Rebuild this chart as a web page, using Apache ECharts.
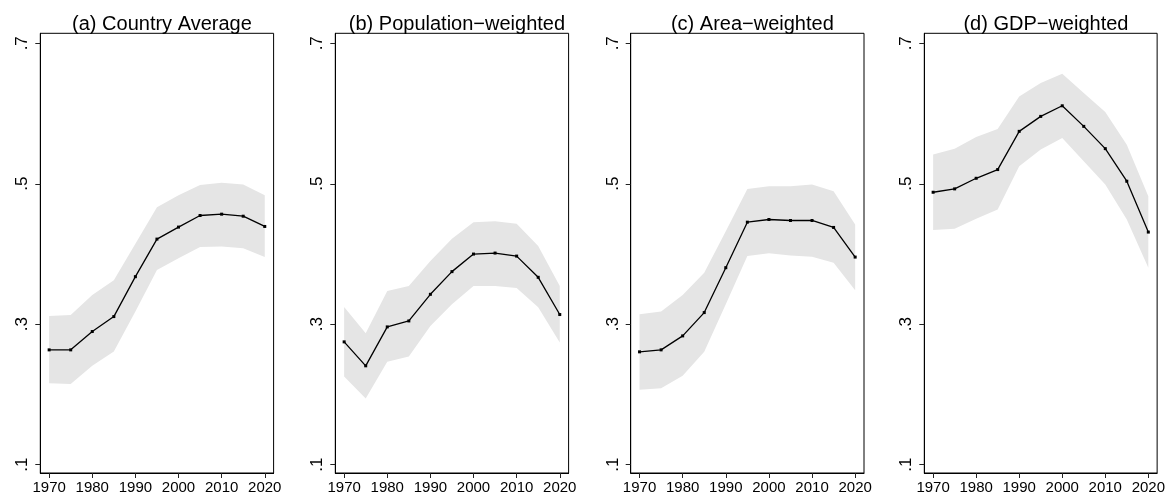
<!DOCTYPE html>
<html>
<head>
<meta charset="utf-8">
<script src="https://cdn.jsdelivr.net/npm/echarts@6/dist/echarts.min.js"></script>
<style>
html,body{margin:0;padding:0;background:#fff;}
#c{width:1168px;height:495px;}
</style>
</head>
<body>
<div id="c"></div>
<script>
const years = [1970,1975,1980,1985,1990,1995,2000,2005,2010,2015,2020];
const xTicks = [1970,1980,1990,2000,2010,2020];
const yTicks = [0.1,0.3,0.5,0.7];
const titles = ['(a) Country Average','(b) Population\u2212weighted','(c) Area\u2212weighted','(d) GDP\u2212weighted'];

const avgMean = [0.2635,0.2635,0.2896,0.3109,0.3677,0.4212,0.4383,0.4548,0.4567,0.4538,0.4392];
const avgLo   = [0.2160,0.2148,0.2408,0.2612,0.3180,0.3771,0.3938,0.4098,0.4108,0.4080,0.3956];
const avgHi   = [0.3118,0.3130,0.3417,0.3625,0.4146,0.4667,0.4837,0.4984,0.5013,0.4989,0.4837];

const popMean = [0.2749,0.2408,0.2962,0.3047,0.3426,0.3749,0.3999,0.4013,0.3970,0.3668,0.3138];
const popLo   = [0.2257,0.1944,0.2465,0.2541,0.2976,0.3284,0.3544,0.3544,0.3516,0.3241,0.2740];
const popHi   = [0.3246,0.2872,0.3473,0.3544,0.3900,0.4217,0.4453,0.4467,0.4430,0.4113,0.3544];

const areaMean = [0.2607,0.2635,0.2834,0.3166,0.3805,0.4453,0.4491,0.4477,0.4477,0.4378,0.3956];
const areaLo   = [0.2067,0.2087,0.2266,0.2607,0.3284,0.3970,0.4009,0.3980,0.3961,0.3876,0.3483];
const areaHi   = [0.3142,0.3180,0.3417,0.3734,0.4325,0.4927,0.4965,0.4965,0.4989,0.4894,0.4420];

const gdpMean = [0.4879,0.4927,0.5078,0.5202,0.5746,0.5959,0.6110,0.5817,0.5500,0.5036,0.4312];
const gdpLo   = [0.4340,0.4359,0.4501,0.4634,0.5249,0.5486,0.5652,0.5320,0.4989,0.4492,0.3805];
const gdpHi   = [0.5415,0.5500,0.5666,0.5780,0.6243,0.6433,0.6565,0.6291,0.6022,0.5557,0.4823];

const panels = [
  {mean: avgMean, lo: avgLo, hi: avgHi},
  {mean: popMean, lo: popLo, hi: popHi},
  {mean: areaMean, lo: areaLo, hi: areaHi},
  {mean: gdpMean, lo: gdpLo, hi: gdpHi}
];

const gridLefts = [40.3, 335.3, 630.7, 924.3];
const gridWidth = 233.3;
const gridTop = 33.3;
const gridHeight = 440.7;
const FONT = 'Liberation Sans';

function bandRender(lo, hi) {
  return function (params, api) {
    const pts = [];
    for (let k = 0; k < years.length; k++) pts.push(api.coord([years[k], hi[k]]));
    for (let k = years.length - 1; k >= 0; k--) pts.push(api.coord([years[k], lo[k]]));
    return {type: 'polygon', shape: {points: pts}, style: {fill: '#e5e5e5', stroke: null}, silent: true};
  };
}

const grid = [], xAxis = [], yAxis = [], series = [], title = [];
panels.forEach((p, i) => {
  grid.push({left: gridLefts[i], top: gridTop, width: gridWidth, height: gridHeight,
    show: true, borderColor: '#000', borderWidth: 1, backgroundColor: 'transparent'});
  title.push({text: titles[i], left: gridLefts[i] + gridWidth / 2, top: 9, textAlign: 'center',
    textStyle: {fontFamily: FONT, fontSize: 20, fontWeight: 'normal', color: '#000'}});
  xAxis.push({type: 'value', gridIndex: i, min: 1967.95, max: 2022.05,
    axisLine: {show: true, lineStyle: {color: '#000', width: 1}},
    axisTick: {show: true, length: 5, customValues: xTicks, lineStyle: {color: '#222'}},
    axisLabel: {show: true, customValues: xTicks, margin: 7, color: '#000', fontFamily: FONT, fontSize: 15,
      formatter: v => String(v)},
    splitLine: {show: false}});
  yAxis.push({type: 'value', gridIndex: i, min: 0.0882, max: 0.7142,
    axisLine: {show: true, lineStyle: {color: '#000', width: 1}},
    axisTick: {show: true, length: 5, customValues: yTicks, lineStyle: {color: '#222'}},
    axisLabel: {show: true, customValues: yTicks, margin: 9, rotate: 90, color: '#000', fontFamily: FONT, fontSize: 17,
      formatter: v => '.' + Math.round(v * 10)},
    splitLine: {show: false}});
  series.push({type: 'custom', xAxisIndex: i, yAxisIndex: i, silent: true, z: 1,
    renderItem: bandRender(p.lo, p.hi),
    data: [[years[0], p.lo[0]]], clip: true});
  series.push({type: 'line', xAxisIndex: i, yAxisIndex: i, symbol: 'rect', symbolSize: 3, z: 3,
    itemStyle: {color: '#000'}, lineStyle: {color: '#000', width: 1.3},
    data: years.map((y, k) => [y, p.mean[k]])});
});

const chart = echarts.init(document.getElementById('c'), null, {renderer: 'canvas'});
chart.setOption({animation: false, backgroundColor: '#fff', title, grid, xAxis, yAxis, series});
</script>
</body>
</html>
